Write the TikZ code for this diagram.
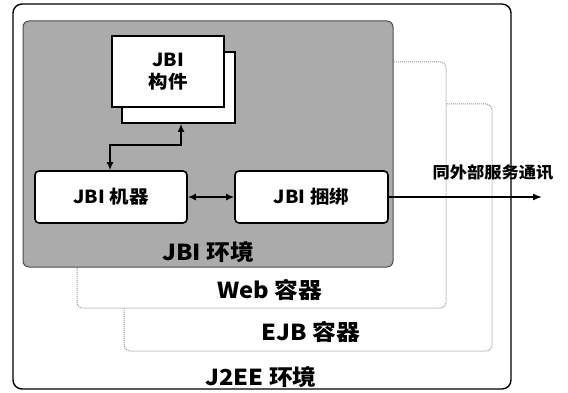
\documentclass[tikz,border=0pt]{standalone}
\usepackage{fontspec}
\setmainfont[FakeStretch=1.08]{Noto Sans CJK SC}
\usetikzlibrary{arrows.meta}
\tikzset{
  lbl/.style={font=\bfseries\fontsize{22}{24}\selectfont, inner sep=0pt},
  boxtext/.style={font=\bfseries\fontsize{18}{20}\selectfont, inner sep=0pt},
  wbox/.style={draw=black, line width=1.6pt, fill=white, rounded corners=4pt, inner sep=0pt},
  sqbox/.style={draw=black, line width=1.6pt, fill=white, inner sep=0pt},
  cont/.style={draw=gray!80, line width=1pt, densely dotted, fill=white, rounded corners=6pt},
  conn/.style={line width=2pt, {Latex[length=8pt,width=7pt]}-{Latex[length=8pt,width=7pt]}},
  outa/.style={line width=1.6pt, -{Latex[length=9pt,width=7pt]}}
}
\begin{document}
\begin{tikzpicture}[x=1pt,y=-1pt]
\useasboundingbox (0,0) rectangle (568,393);
% J2EE outer
\draw[line width=1.4pt, rounded corners=9pt] (13,4) rectangle (511,389);
% EJB container
\draw[cont] (124,104) rectangle (492,351);
% Web container
\draw[cont] (77,62) rectangle (446,308);
% JBI environment
\draw[draw=black!70, line width=1pt, fill=black!33, rounded corners=6pt] (23,21) rectangle (393,267);
% JBI component (stacked)
\node[sqbox, minimum width=113pt, minimum height=71pt] (cback) at (178.5,87.5) {};
\node[sqbox, minimum width=112pt, minimum height=71pt, align=center, boxtext] (comp) at (168,71.5) {JBI\\[2pt]构件};
% engine and binding
\node[wbox, minimum width=152pt, minimum height=52pt, boxtext] (mach) at (111,197) {JBI 机器};
\node[wbox, minimum width=153pt, minimum height=52pt, boxtext] (bind) at (311.5,197) {JBI 捆绑};
% connectors
\coordinate (cm) at (110,145);
\coordinate (ct) at (181,145);
\draw[conn] (mach.north -| cm) -- (cm) -- (ct) -- (ct |- cback.south);
\draw[conn] (mach.east) -- (bind.west);
\coordinate (ext) at (542,197);
\draw[outa] (bind.east) -- (ext);
\node[font=\bfseries\fontsize{16}{18}\selectfont, inner sep=0pt] (extl) at (493,172) {同外部服务通讯};
% labels
\node[lbl] (jbil) at (208,252) {JBI 环境};
\node[lbl] (webl) at (270,290) {Web 容器};
\node[lbl] (ejbl) at (311,332) {EJB 容器};
\node[lbl] (j2l) at (261,377) {J2EE 环境};
\end{tikzpicture}
\end{document}
